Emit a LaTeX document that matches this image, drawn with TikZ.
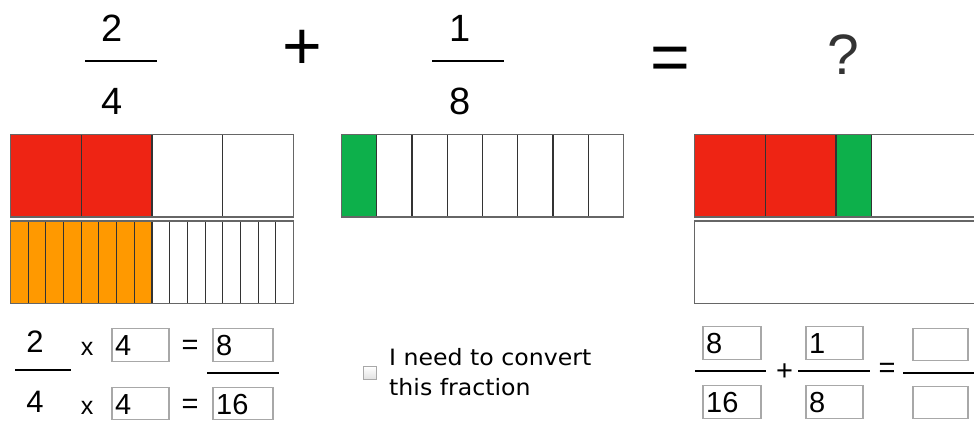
\documentclass[tikz,border=0pt]{standalone}
\usepackage{fontspec}
\setmainfont{Liberation Sans}
\newfontfamily\verd[FakeStretch=1.05]{DejaVu Sans}
\definecolor{cred}{HTML}{EE2414}
\definecolor{corange}{HTML}{FF9900}
\definecolor{cgreen}{HTML}{0DB04B}
\definecolor{cline}{HTML}{333333}
\definecolor{cframe}{HTML}{666666}
\definecolor{cbox}{HTML}{A8A8A8}
\begin{document}
\begin{tikzpicture}[x=1pt,y=-1pt,
  cell/.style={draw=cline,line width=1.1pt},
  frame/.style={draw=cframe,line width=1.6pt},
  inbox/.style={draw=cbox,line width=1.2pt,fill=white},
  fracbar/.style={line width=2pt,draw=black},
  bigdig/.style={inner sep=0pt,font=\fontsize{38}{38}\selectfont},
  middig/.style={inner sep=0pt,font=\fontsize{31}{31}\selectfont},
  boxdig/.style={inner sep=0pt,anchor=west,font=\fontsize{29}{29}\selectfont},
  smallx/.style={inner sep=0pt,font=\fontsize{25}{25}\selectfont},
  smallop/.style={inner sep=0pt,font=\fontsize{29}{29}\selectfont},
  bigop/.style={inner sep=0pt,font=\fontsize{68}{68}\selectfont}]
\useasboundingbox (0,0) rectangle (974,422);
\clip (0,0) rectangle (974,422);

% ---------- top equation ----------
\node[bigdig] (n1) at (112,28.5) {2};
\draw[fracbar] (85,61.5) -- (157,61.5);
\node[bigdig] (d1) at (112,101.5) {4};
\node[bigop] (plus) at (302,50) {+};
\node[bigdig] (n2) at (460,28.5) {1};
\draw[fracbar] (432,61.5) -- (504,61.5);
\node[bigdig] (d2) at (460,101.5) {8};
\node[bigop] (eq) at (670,64) {=};
\node[inner sep=0pt,font=\fontsize{57}{57}\selectfont,text=cline] (q) at (843,55) {?};

% ---------- bar 2/4 ----------
\foreach \i in {0,...,3}{
  \ifnum\i<2 \def\fc{cred}\else\def\fc{white}\fi
  \draw[cell,fill=\fc] ({10.5+\i*70.75},134.5) rectangle ++(70.75,82.5);
}
\draw[frame] (10.5,134.5) rectangle (293.5,217);
% ---------- bar 8/16 ----------
\foreach \i in {0,...,15}{
  \ifnum\i<8 \def\fc{corange}\else\def\fc{white}\fi
  \draw[cell,fill=\fc] ({10.5+\i*17.6875},221) rectangle ++(17.6875,82.5);
}
\draw[frame] (10.5,221) rectangle (293.5,303.5);
% ---------- bar 1/8 ----------
\foreach \i in {0,...,7}{
  \ifnum\i<1 \def\fc{cgreen}\else\def\fc{white}\fi
  \draw[cell,fill=\fc] ({341.5+\i*35.25},134.5) rectangle ++(35.25,82.5);
}
\draw[frame] (341.5,134.5) rectangle (623.5,217);
% ---------- result bars ----------
\draw[cell,fill=cred] (694.5,134.5) rectangle (765.25,217);
\draw[cell,fill=cred] (765.25,134.5) rectangle (836,217);
\draw[cell,fill=cgreen] (836,134.5) rectangle (871.4,217);
\draw[cell,fill=white] (871.4,134.5) rectangle (977.5,217);
\draw[frame] (694.5,134.5) rectangle (977.5,217);
\draw[frame,fill=white] (694.5,221) rectangle (977.5,303.5);

% ---------- conversion 2/4 = 8/16 ----------
\node[middig] (cn) at (35,342) {2};
\draw[fracbar] (15,370) -- (71,370);
\node[middig] (cd) at (35,402) {4};
\node[smallx] (x1) at (87,349) {x};
\node[smallx] (x2) at (87,408) {x};
\draw[inbox] (112,328.5) rectangle (169,361.5);
\node[boxdig] (b1) at (115,346) {4};
\draw[inbox] (112,387.5) rectangle (169,419.5);
\node[boxdig] (b2) at (115,404.5) {4};
\node[smallop] (e1) at (190,347) {=};
\node[smallop] (e2) at (190,406) {=};
\draw[inbox] (213,328.5) rectangle (273,361.5);
\node[boxdig] (b3) at (216,346) {8};
\draw[fracbar] (207,373) -- (279,373);
\draw[inbox] (213,387.5) rectangle (273,419.5);
\node[boxdig] (b4) at (216,404.5) {16};

% ---------- checkbox ----------
\draw[draw=cbox,line width=0.8pt,top color=white,bottom color=black!12] (363.5,366.5) rectangle (376.5,379.5);
\node[anchor=base west,inner sep=0pt,font=\verd\fontsize{22.5}{22.5}\selectfont] (t1) at (389,365) {I need to convert};
\node[anchor=base west,inner sep=0pt,font=\verd\fontsize{22.5}{22.5}\selectfont] (t2) at (389,395) {this fraction};

% ---------- 8/16 + 1/8 = ? ----------
\draw[inbox] (703,326.5) rectangle (761,359.5);
\node[boxdig] (r1) at (706,344) {8};
\draw[fracbar] (695,371) -- (766,371);
\draw[inbox] (703,385.5) rectangle (761,418.5);
\node[boxdig] (r2) at (706,403) {16};
\node[smallop] (rp) at (784.5,372) {+};
\draw[inbox] (806,326.5) rectangle (863,359.5);
\node[boxdig] (r3) at (809,344) {1};
\draw[fracbar] (798,371) -- (870,371);
\draw[inbox] (806,385.5) rectangle (863,418.5);
\node[boxdig] (r4) at (809,403) {8};
\node[smallop] (re) at (887,370) {=};
\draw[inbox] (913,328.5) rectangle (968,360.5);
\draw[fracbar] (903,373) -- (974,373);
\draw[inbox] (913,386.5) rectangle (968,418.5);
\end{tikzpicture}
\end{document}
